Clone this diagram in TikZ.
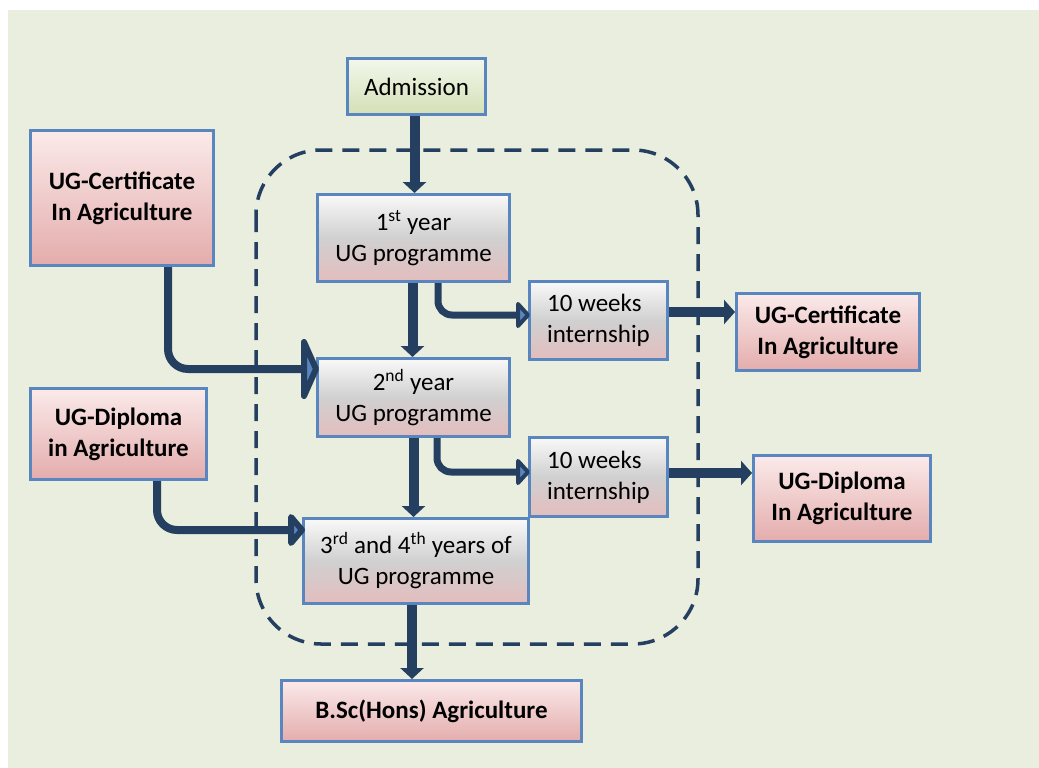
\documentclass[tikz,border=0pt]{standalone}
\usepackage{fontspec}
\setmainfont{Carlito}
\usetikzlibrary{arrows.meta}
\definecolor{bgcol}{HTML}{EAEEDE}
\definecolor{boxblue}{HTML}{5A86C0}
\definecolor{arrcol}{HTML}{243F60}
\definecolor{pinktop}{HTML}{FBEAEA}
\definecolor{pinkbot}{HTML}{E4ACAC}
\definecolor{greytop}{HTML}{F9F9F9}
\definecolor{greymid}{HTML}{D0D0D0}
\definecolor{greybot}{HTML}{E3BDBD}
\definecolor{greentop}{HTML}{F3F7EC}
\definecolor{greenbot}{HTML}{D3E0B6}
\begin{document}
\begin{tikzpicture}[x=1pt,y=-1pt,
  boxbase/.style={draw=boxblue, line width=3pt, inner sep=2pt, align=center,
    font=\fontsize{25}{31}\selectfont},
  pinkbox/.style={boxbase, top color=pinktop, bottom color=pinkbot, font=\fontsize{25}{31}\selectfont\bfseries},
  greybox/.style={boxbase, top color=greytop, bottom color=greybot, middle color=greymid},
  greenbox/.style={boxbase, top color=greentop, bottom color=greenbot},
  mainarr/.style={draw=arrcol, line width=10pt, -{Triangle[length=11pt, width=23pt]}},
  outarr/.style={draw=arrcol, line width=10pt, -{Triangle[length=11pt, width=24pt]}},
  sideline/.style={draw=arrcol, line width=7pt, rounded corners=14pt, shorten >=8pt},
  inline/.style={draw=arrcol, line width=8pt, rounded corners=20pt, shorten >=9pt},
  chev/.style={draw=arrcol, fill=boxblue, line join=round, line width=6pt},
  smallchev/.style={draw=arrcol, fill=boxblue, line join=round, line width=4pt},
  dashbox/.style={draw=arrcol, line width=3.5pt, dash pattern=on 17pt off 10pt, rounded corners=65pt}
]
\useasboundingbox (0,0) rectangle (1039,768);
\fill[white] (0,0) rectangle (1039,768);
\fill[bgcol] (8,10) rectangle (1039,768);

\draw[dashbox] (256,150) rectangle (698,644);

\node[greenbox, minimum width=138pt, minimum height=56pt] (adm) at (416.5,86.5) {Admission};
\node[pinkbox, minimum width=183pt, minimum height=135pt] (c1) at (122,198) {UG-Certificate\\In Agriculture};
\node[greybox, minimum width=192pt, minimum height=87pt] (y1) at (413.5,238) {1\textsuperscript{st} year\\UG programme};
\node[greybox, minimum width=138pt, minimum height=78pt, align=left] (i1) at (598.5,320.5) {10 weeks\\internship};
\node[pinkbox, minimum width=183pt, minimum height=77pt] (c2) at (828,332) {UG-Certificate\\In Agriculture};
\node[greybox, minimum width=192pt, minimum height=78pt] (y2) at (413.5,397.5) {2\textsuperscript{nd} year\\UG programme};
\node[pinkbox, minimum width=176pt, minimum height=91pt] (d1) at (118.5,434) {UG-Diploma\\in Agriculture};
\node[greybox, minimum width=138pt, minimum height=79pt, align=left] (i2) at (598.5,477) {10 weeks\\internship};
\node[pinkbox, minimum width=177pt, minimum height=86pt] (d2) at (842,498.5) {UG-Diploma\\In Agriculture};
\node[greybox, minimum width=225pt, minimum height=85pt] (y3) at (416,561) {3\textsuperscript{rd} and 4\textsuperscript{th} years of\\UG programme};
\node[pinkbox, minimum width=300pt, minimum height=61pt] (bsc) at (431.5,711) {B.Sc(Hons) Agriculture};

\draw[mainarr] ([xshift=-2pt]adm.south) -- ([xshift=-2pt]adm.south |- y1.north);
\draw[mainarr] ([xshift=-1pt]y1.south) -- ([xshift=-1pt]y2.north);
\draw[mainarr] (y2.south) -- (y2.south |- y3.north);
\draw[mainarr] ([xshift=-4pt]y3.south) -- ([xshift=-4pt]y3.south |- bsc.north);

\draw[sideline] ([xshift=24.5pt]y1.south) |- ([yshift=5.5pt]i1.west);
\draw[smallchev] ([yshift=5.5pt]i1.west) -- ++(-10,-11) -- ++(0,22) -- cycle;
\draw[sideline] ([xshift=23.5pt]y2.south) |- ([yshift=5pt]i2.west);
\draw[smallchev] ([yshift=5pt]i2.west) -- ++(-10,-11) -- ++(0,22) -- cycle;

\draw[outarr] ([yshift=8.5pt]i1.east) -- ([yshift=8.5pt]i1.east -| c2.west);
\draw[outarr] ([yshift=4pt]i2.east) -- ([yshift=4pt]i2.east -| d2.west);

\draw[inline] ([xshift=46pt]c1.south) |- ([yshift=28.5pt]y2.west);
\draw[chev] ([yshift=28.5pt]y2.west) -- ++(-12,-27) -- ++(0,54) -- cycle;
\draw[inline] ([xshift=38.5pt]d1.south) |- ([yshift=31pt]y3.west);
\draw[chev] ([yshift=31pt]y3.west) -- ++(-11,-13) -- ++(0,26) -- cycle;
\end{tikzpicture}
\end{document}
